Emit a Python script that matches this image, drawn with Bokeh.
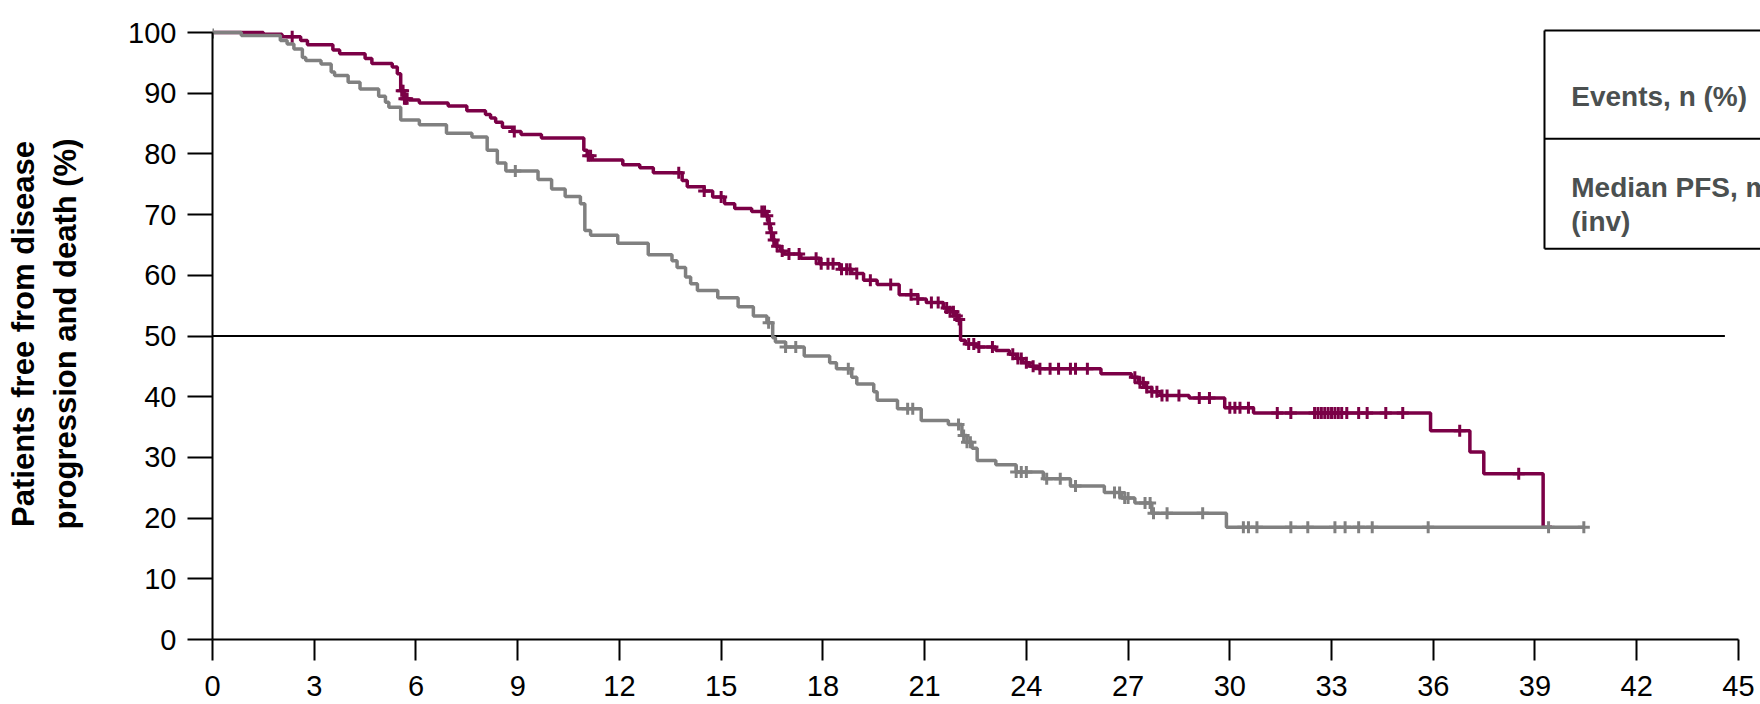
import numpy as np
from bokeh.plotting import figure
from bokeh.models import Range1d, FixedTicker
from bokeh.core.properties import value
from bokeh.embed import file_html
from bokeh.resources import INLINE

# ---------------- data ----------------
x_ticks = [0, 3, 6, 9, 12, 15, 18, 21, 24, 27, 30, 33, 36, 39, 42, 45]
y_ticks = [0, 10, 20, 30, 40, 50, 60, 70, 80, 90, 100]

# treatment arm (purple): step times (months) and survival (%) after each step
trt_time = [0, 1.5, 2.05, 2.6, 2.8, 3.55, 3.75, 4.5, 4.7, 5.3,
            5.45, 5.55, 5.65, 5.8, 6.1, 6.95, 7.5, 8.05, 8.2, 8.35,
            8.55, 8.85, 9.1, 9.7, 10.95, 11.05, 11.2, 12.1, 12.6, 13.0,
            13.85, 14.0, 14.5, 14.75, 15.1, 15.4, 15.9, 16.3, 16.4, 16.45,
            16.5, 16.6, 16.75, 16.85, 17.35, 17.9, 18.5, 18.85, 19.2, 19.6,
            20.25, 20.8, 21.05, 21.55, 21.75, 21.9, 22.0, 22.06, 22.2, 22.55,
            23.1, 23.5, 23.7, 23.9, 24.1, 24.35, 26.2, 27.1, 27.3, 27.5,
            27.7, 27.95, 28.8, 29.85, 30.7, 35.92, 37.08, 37.49, 39.24]
trt_surv = [100, 99.7, 99.3, 98.7, 98.0, 97.1, 96.5, 95.7, 94.9, 94.3,
            93.2, 90.4, 89.1, 88.9, 88.4, 87.9, 87.1, 86.5, 85.9, 85.2,
            84.4, 83.7, 83.2, 82.6, 80.6, 79.7, 79.0, 78.2, 77.7, 76.9,
            75.6, 74.6, 73.9, 72.9, 71.8, 71.0, 70.5, 69.8, 68.5, 67.0,
            65.8, 64.8, 64.0, 63.5, 62.8, 61.9, 61.0, 60.3, 59.2, 58.5,
            56.8, 56.1, 55.5, 54.6, 54.0, 53.3, 52.7, 49.3, 48.7, 48.2,
            47.6, 47.0, 46.3, 45.6, 45.0, 44.6, 43.8, 43.2, 42.3, 41.5,
            40.8, 40.2, 39.8, 38.2, 37.3, 34.4, 30.9, 27.3, 18.5]
trt_end = 39.5
trt_censor = [2.35, 5.58, 5.62, 5.66, 5.7, 5.74, 8.9, 11.08, 11.15, 13.75,
              14.5, 15.0, 16.2, 16.28, 16.36, 16.42, 16.48, 16.55, 16.65, 16.8,
              17.0, 17.3, 17.8, 17.95, 18.15, 18.3, 18.55, 18.7, 18.8, 19.0,
              19.4, 20.0, 20.6, 20.8, 21.2, 21.4, 21.65, 21.75, 21.85, 21.95,
              22.02, 22.3, 22.45, 22.6, 23.0, 23.6, 23.75, 23.85, 24.0, 24.2,
              24.4, 24.7, 24.95, 25.3, 25.45, 25.8, 27.2, 27.35, 27.45, 27.55,
              27.7, 27.85, 28.0, 28.15, 28.5, 29.1, 29.4, 30.0, 30.15, 30.3,
              30.55, 31.4, 31.8, 32.5, 32.6, 32.7, 32.8, 32.9, 33.0, 33.1,
              33.2, 33.3, 33.45, 33.8, 34.05, 34.6, 35.1, 36.78, 38.52]

# control arm (grey)
ctl_time = [0, 0.85, 2.0, 2.2, 2.4, 2.65, 2.75, 3.2, 3.5, 3.6,
            4.0, 4.35, 4.9, 5.1, 5.2, 5.55, 6.1, 6.9, 7.65, 8.1,
            8.4, 8.65, 9.6, 10.0, 10.4, 10.85, 10.98, 11.15, 11.95, 12.85,
            13.55, 13.7, 13.95, 14.1, 14.3, 14.9, 15.5, 15.95, 16.35, 16.52,
            16.6, 16.9, 17.45, 18.2, 18.4, 18.85, 19.0, 19.5, 19.6, 20.2,
            20.9, 21.7, 22.1, 22.25, 22.4, 22.55, 23.1, 23.7, 24.5, 25.3,
            26.3, 26.8, 27.2, 27.7, 29.9]
ctl_surv = [100, 99.5, 98.7, 98.1, 97.3, 95.9, 95.4, 94.8, 93.5, 92.9,
            91.8, 90.7, 89.5, 88.5, 87.7, 85.6, 84.8, 83.4, 82.8, 80.6,
            78.5, 77.2, 75.8, 74.2, 73.0, 71.8, 67.4, 66.6, 65.3, 63.4,
            62.4, 61.3, 59.7, 58.6, 57.5, 56.3, 54.8, 53.3, 52.2, 49.7,
            49.0, 48.2, 46.7, 45.6, 44.6, 43.2, 42.1, 40.8, 39.4, 38.0,
            36.1, 35.4, 33.6, 32.5, 31.5, 29.5, 28.8, 27.6, 26.5, 25.3,
            24.2, 23.3, 22.5, 20.8, 18.5]
ctl_end = 40.44
ctl_censor = [0.0, 8.93, 16.4, 16.9, 17.2, 18.75, 20.5, 20.65, 22.0, 22.15,
              22.25, 22.35, 23.7, 23.85, 24.0, 24.6, 25.0, 25.45, 26.6, 26.75,
              26.9, 27.0, 27.5, 27.65, 27.75, 28.15, 29.2, 30.4, 30.55, 30.8,
              31.8, 32.3, 33.1, 33.4, 33.8, 34.2, 35.85, 39.4, 40.44]

median_line = 50
table_rows = ["Events, n (%)", "Median PFS, months", "(inv)"]

assert len(trt_time) == len(trt_surv)
assert len(ctl_time) == len(ctl_surv)

PURPLE = "#7b0046"
GREY = "#808080"
FONT = "Liberation Sans"


def surv_at(times, surv, t):
    idx = np.searchsorted(np.asarray(times), np.asarray(t), side="right") - 1
    return list(np.asarray(surv)[idx])


X_END = 45.65
Y_END = 100.66

p = figure(width=1760, height=704,
           x_range=Range1d(0, X_END), y_range=Range1d(0, Y_END),
           output_backend="svg", toolbar_location=None,
           min_border_left=212, min_border_right=0,
           min_border_top=28, min_border_bottom=65)
p.outline_line_color = None
p.grid.visible = False
p.background_fill_color = "white"
p.border_fill_color = "white"

# axes
for ax in (p.xaxis, p.yaxis):
    ax.axis_line_width = 2
    ax.axis_line_color = "black"
    ax.major_tick_line_width = 2
    ax.major_tick_line_color = "black"
    ax.major_tick_in = 0
    ax.minor_tick_line_color = None
    ax.major_label_text_font = FONT
    ax.major_label_text_font_size = "29px"
    ax.major_label_text_color = "black"

p.xaxis.ticker = FixedTicker(ticks=x_ticks)
p.xaxis.bounds = (0, 45)
p.xaxis.major_tick_out = 21
p.xaxis.major_label_standoff = 15

p.yaxis.ticker = FixedTicker(ticks=y_ticks)
p.yaxis.bounds = (0, 100)
p.yaxis.major_tick_out = 25
p.yaxis.major_label_standoff = 11
p.yaxis.axis_label = "Patients free from disease\nprogression and death (%)"
p.yaxis.axis_label_text_font = FONT
p.yaxis.axis_label_text_font_style = "bold"
p.yaxis.axis_label_text_font_size = "31px"
p.yaxis.axis_label_text_color = "black"
p.yaxis.axis_label_standoff = 42

# 50% reference line
p.line([0, 44.6], [median_line, median_line], line_color="black", line_width=2)

# curves
p.step(trt_time + [trt_end], trt_surv + [trt_surv[-1]], mode="after",
       line_color=PURPLE, line_width=3.5)
p.scatter(trt_censor, surv_at(trt_time, trt_surv, trt_censor), marker="cross",
          size=12, line_width=3, line_color=PURPLE)

p.step(ctl_time + [ctl_end], ctl_surv + [ctl_surv[-1]], mode="after",
       line_color=GREY, line_width=3.5)
p.scatter(ctl_censor, surv_at(ctl_time, ctl_surv, ctl_censor), marker="cross",
          size=12, line_width=3, line_color=GREY)

# summary table (runs past the right edge, as in the reference)
TBL_X = 39.28
TBL_R = 47.0
TBL_Y = [100.33, 82.49, 64.37]
p.segment(x0=[TBL_X, TBL_X, TBL_X, TBL_X], y0=[TBL_Y[0], TBL_Y[1], TBL_Y[2], TBL_Y[2]],
          x1=[TBL_R, TBL_R, TBL_R, TBL_X], y1=[TBL_Y[0], TBL_Y[1], TBL_Y[2], TBL_Y[0]],
          line_color="black", line_width=2)
p.text(x=[40.07, 40.07, 40.07], y=[89.46, 74.5, 68.9], text=table_rows,
       text_font=value(FONT), text_font_style="bold", text_font_size="28px",
       text_color="#4b5050", text_baseline="alphabetic", text_align="left")

open("out.html", "w").write(file_html(p, INLINE))
